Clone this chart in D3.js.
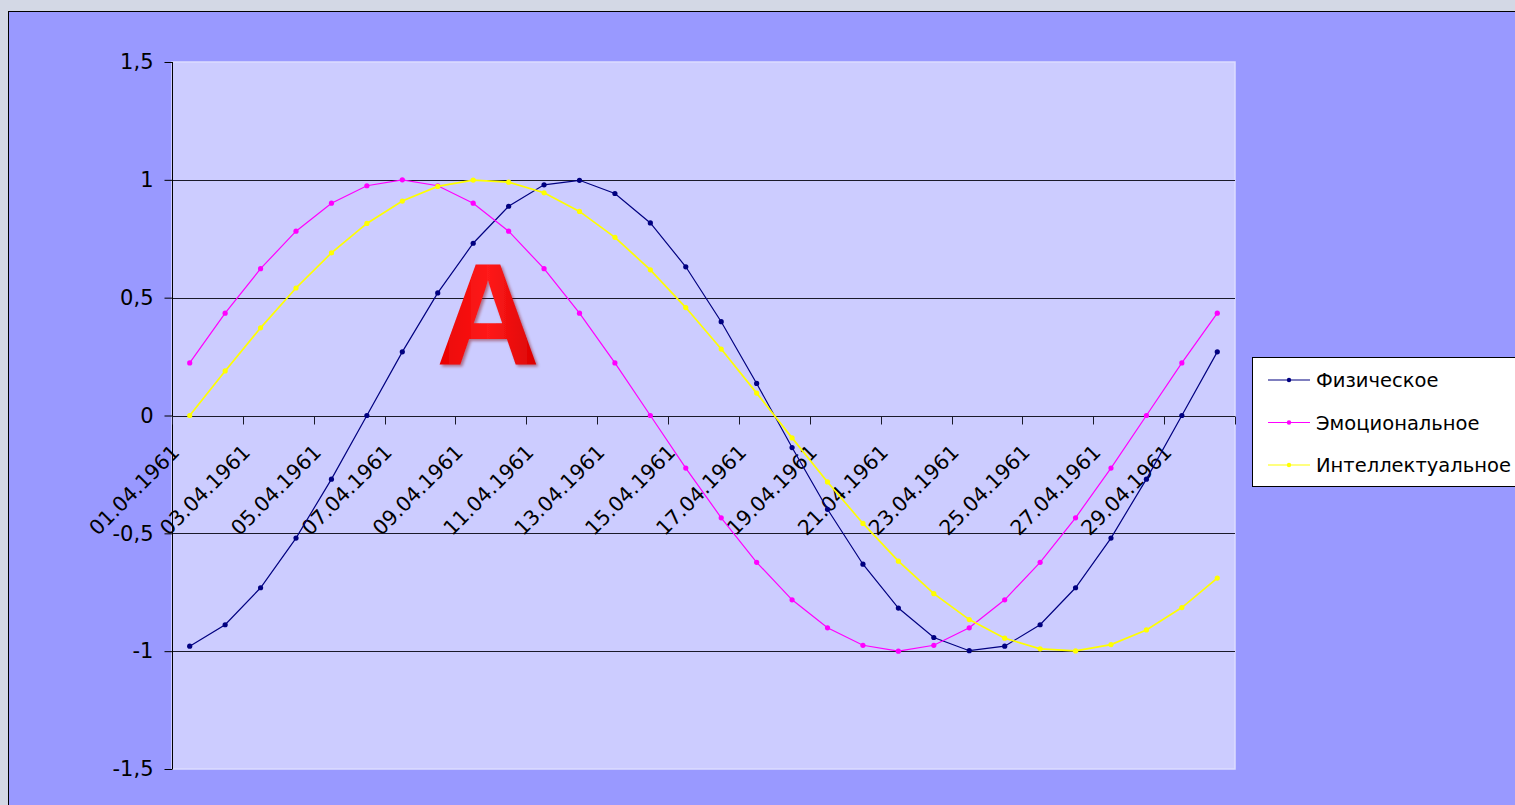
<!DOCTYPE html>
<html><head><meta charset="utf-8">
<script src="https://cdn.jsdelivr.net/npm/d3@7"></script>
<style>html,body{margin:0;padding:0;background:#d3d8e5;overflow:hidden}svg{display:block}</style>
</head><body>
<svg id="c" width="1515" height="805"></svg>
<script>
const dates = ["01.04.1961","02.04.1961","03.04.1961","04.04.1961","05.04.1961","06.04.1961","07.04.1961","08.04.1961","09.04.1961","10.04.1961",
"11.04.1961","12.04.1961","13.04.1961","14.04.1961","15.04.1961","16.04.1961","17.04.1961","18.04.1961","19.04.1961","20.04.1961",
"21.04.1961","22.04.1961","23.04.1961","24.04.1961","25.04.1961","26.04.1961","27.04.1961","28.04.1961","29.04.1961","30.04.1961"];
const physical = [-0.979,-0.888,-0.731,-0.520,-0.270,0,0.270,0.520,0.731,0.888,0.979,0.998,0.942,0.817,0.631,0.398,0.136,-0.136,-0.398,-0.631,-0.817,-0.942,-0.998,-0.979,-0.888,-0.731,-0.520,-0.270,0,0.270];
const emotional = [0.223,0.434,0.623,0.782,0.901,0.975,1,0.975,0.901,0.782,0.623,0.434,0.223,0,-0.223,-0.434,-0.623,-0.782,-0.901,-0.975,-1,-0.975,-0.901,-0.782,-0.623,-0.434,-0.223,0,0.223,0.434];
const intellectual = [0,0.189,0.372,0.541,0.690,0.815,0.910,0.972,0.999,0.990,0.945,0.866,0.756,0.618,0.458,0.282,0.095,-0.095,-0.282,-0.458,-0.618,-0.756,-0.866,-0.945,-0.990,-0.999,-0.972,-0.910,-0.815,-0.690];
const seriesNames = ["Физическое","Эмоциональное","Интеллектуальное"];
const seriesColors = ["#000080","#ff00ff","#ffff00"];
const yTicks = [1.5,1,0.5,0,-0.5,-1,-1.5];
const labelEvery = 2;
const markLetter = "A";

const svg = d3.select("#c");
const L=172,R=1235,T=62,B=769;
const font = "'DejaVu Sans', Verdana, sans-serif";

svg.append("rect").attr("x",8.5).attr("y",11.5).attr("width",1560).attr("height",850)
  .attr("fill","#9999ff").attr("stroke","#000").attr("stroke-width",1);

const x = d3.scaleBand().domain(dates).range([L,R]).paddingInner(0).paddingOuter(0);
const y = d3.scaleLinear().domain([-1.5,1.5]).range([B,T]);

svg.append("rect").attr("x",L).attr("y",T).attr("width",R-L).attr("height",B-T)
  .attr("fill","#ccccff").attr("stroke","#dcdcff").attr("stroke-width",1.5);

// grid
svg.append("g").selectAll("line").data(yTicks.filter(v=>v!==1.5&&v!==-1.5&&v!==0)).join("line")
  .attr("x1",L).attr("x2",R).attr("y1",d=>Math.round(y(d))+0.5).attr("y2",d=>Math.round(y(d))+0.5)
  .attr("stroke","#1a1a2a").attr("stroke-width",1);

// y axis
const ya = svg.append("g").attr("transform",`translate(${L+0.5},0)`)
  .call(d3.axisLeft(y).tickValues(yTicks).tickSize(8).tickPadding(11)
    .tickFormat(d=>String(d).replace(".",",")));
ya.select(".domain").attr("stroke","#000").attr("d",`M0,${T}V${B}`);
ya.selectAll(".tick line").attr("stroke","#000");
ya.selectAll("text").attr("font-family",font).attr("font-size",21).attr("fill","#000");

// x axis at zero
const y0 = Math.round(y(0))+0.5;
svg.append("line").attr("x1",L).attr("x2",R).attr("y1",y0).attr("y2",y0).attr("stroke","#1a1a2a");
const bw = x.bandwidth();
const tickXs = d3.range(0,dates.length+1,labelEvery).map(i=>L+i*bw);
svg.append("g").selectAll("line").data(tickXs).join("line")
  .attr("x1",d=>Math.round(d)+0.5).attr("x2",d=>Math.round(d)+0.5).attr("y1",y0).attr("y2",y0+8)
  .attr("stroke","#1a1a2a");
svg.append("g").selectAll("text").data(dates.filter((d,i)=>i%labelEvery===0)).join("text")
  .attr("transform",d=>`translate(${x(d)+bw/2-9},${y0+37}) rotate(-45)`)
  .attr("text-anchor","end").attr("font-family",font).attr("font-size",20.5).attr("fill","#000")
  .text(d=>d);

// big letter
const defs = svg.append("defs");
const gr = defs.append("linearGradient").attr("id","rg").attr("x1","0").attr("y1","0").attr("x2","1").attr("y2","0");
gr.append("stop").attr("offset","0").attr("stop-color","#e80000");
gr.append("stop").attr("offset","0.5").attr("stop-color","#ff1a1a");
gr.append("stop").attr("offset","1").attr("stop-color","#d80000");
const f = defs.append("filter").attr("id","sh").attr("x","-20%").attr("y","-20%").attr("width","140%").attr("height","140%");
f.append("feDropShadow").attr("dx",2).attr("dy",2).attr("stdDeviation",1.5).attr("flood-color","#800000").attr("flood-opacity",0.45);
svg.append("text").attr("x",488).attr("y",364).attr("text-anchor","middle")
  .attr("font-family","'Liberation Sans', Arial, sans-serif").attr("font-weight","bold").attr("font-size",144)
  .attr("fill","url(#rg)").attr("filter","url(#sh)").text(markLetter);

// series
const data = [physical, emotional, intellectual];
const line = d3.line().x((d,i)=>x(dates[i])+bw/2).y(d=>y(d));
data.forEach((vals,k)=>{
  const g = svg.append("g");
  g.append("path").datum(vals).attr("d",line).attr("fill","none")
    .attr("stroke",seriesColors[k]).attr("stroke-width",k===2?1.7:1.2);
  g.selectAll("circle").data(vals).join("circle")
    .attr("cx",(d,i)=>x(dates[i])+bw/2).attr("cy",d=>y(d)).attr("r",2.6)
    .attr("fill",seriesColors[k]);
});

// legend
const lg = svg.append("g");
lg.append("rect").attr("x",1252.5).attr("y",357.5).attr("width",300).attr("height",129)
  .attr("fill","#fff").attr("stroke","#000");
seriesNames.forEach((n,k)=>{
  const yy = 380 + k*42.5;
  lg.append("line").attr("x1",1268).attr("x2",1310).attr("y1",yy).attr("y2",yy).attr("stroke",seriesColors[k]).attr("stroke-width",1.2);
  lg.append("circle").attr("cx",1289).attr("cy",yy).attr("r",2.2).attr("fill",seriesColors[k]);
  lg.append("text").attr("x",1316).attr("y",yy+7).attr("font-family",font).attr("font-size",19.5).attr("fill","#000").text(n);
});
</script>
</body></html>
